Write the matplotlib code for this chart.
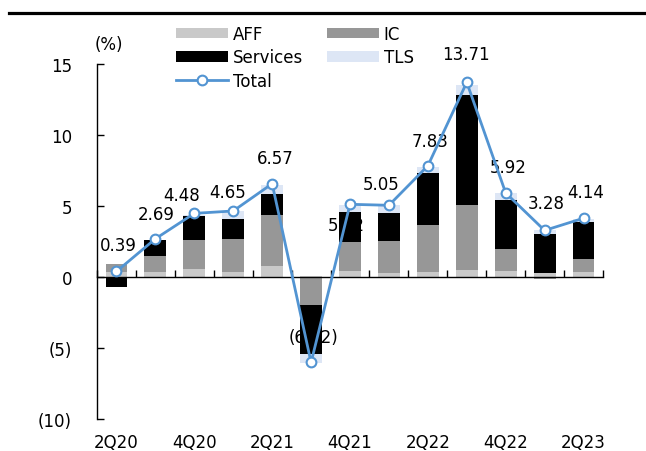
import matplotlib
matplotlib.use("Agg")
import matplotlib.pyplot as plt
import numpy as np
from matplotlib.lines import Line2D
from matplotlib.patches import Patch
from matplotlib.ticker import FixedLocator, FuncFormatter

plt.rcParams['font.family'] = ['DejaVu Sans']
FS = 12

quarters = ['2Q20', '3Q20', '4Q20', '1Q21', '2Q21', '3Q21', '4Q21',
            '1Q22', '2Q22', '3Q22', '4Q22', '1Q23', '2Q23']
aff = [0.33, 0.35, 0.58, 0.35, 0.77, 0.1, 0.4, 0.3, 0.35, 0.47, 0.4, 0.25, 0.35]
ic = [0.57, 1.13, 2.06, 2.3, 3.61, -2.0, 2.1, 2.27, 3.33, 4.58, 1.6, -0.15, 0.94]
services = [-0.7, 1.1, 1.69, 1.46, 1.48, -3.4, 2.1, 1.95, 3.64, 7.75, 3.45, 2.75, 2.58]
tls = [0.0, 0.05, 0.05, 0.54, 0.6, -0.66, 0.5, 0.52, 0.42, 0.75, 0.47, 0.28, 0.23]
total = [0.39, 2.69, 4.48, 4.65, 6.57, -6.02, 5.12, 5.05, 7.83, 13.71, 5.92, 3.28, 4.14]
tick_labels = ['2Q20', '4Q20', '2Q21', '4Q21', '2Q22', '4Q22', '2Q23']
yticks = [-10, -5, 0, 5, 10, 15]

# label offsets in pixels (dx, dy)
label_offsets = [(2, 26), (1, 25), (-13, 18), (-6, 19), (3, 26), (2, 25), (-4, -21),
                 (-8, 21), (2, 25), (-1, 28), (2, 26), (2, 27), (2, 26)]

colors = {'AFF': '#C9C9C9', 'IC': '#979797', 'Services': '#000000', 'TLS': '#DDE6F5'}
line_color = '#5294D2'

fig = plt.figure(figsize=(6.46, 4.52), dpi=100)
W, H = 646, 452
ax = fig.add_axes([97 / W, 1 - 420 / H, (603 - 97) / W, (420 - 65) / H])

x = np.arange(len(quarters))
width = 0.56
pos = np.zeros(len(x))
neg = np.zeros(len(x))
handles = {}
for name, vals in [('AFF', aff), ('IC', ic), ('Services', services), ('TLS', tls)]:
    v = np.array(vals, dtype=float)
    bottom = np.where(v >= 0, pos, neg)
    ax.bar(x, v, width, bottom=bottom, color=colors[name], zorder=1, linewidth=0)
    handles[name] = Patch(facecolor=colors[name], edgecolor='none')
    pos += np.clip(v, 0, None)
    neg += np.clip(v, None, 0)

ax.plot(x, total, color=line_color, lw=2.0, marker='o', ms=7, mfc='white',
        mec=line_color, mew=1.5, zorder=3)
handles['Total'] = Line2D([], [], color=line_color, lw=2.0, marker='o', ms=7,
                          mfc='white', mec=line_color, mew=1.5)

for xi, t, (dx, dy) in zip(x, total, label_offsets):
    s = f"({abs(t):.2f})" if t < 0 else f"{t:.2f}"
    ax.annotate(s, (xi, t), xytext=(dx, dy), textcoords='offset pixels',
                ha='center', va='center', fontsize=FS, color='black', zorder=2.5)

ax.set_xlim(-0.5, len(x) - 0.5)
ax.set_ylim(-10, 15)

for s in ['top', 'right']:
    ax.spines[s].set_visible(False)
ax.spines['bottom'].set_position(('data', 0))
ax.spines['bottom'].set_linewidth(1.0)
ax.spines['left'].set_linewidth(1.0)

ax.xaxis.set_major_locator(FixedLocator(np.arange(-0.5, len(x), 1.0)))
ax.tick_params(axis='x', direction='in', length=5, width=1, labelbottom=False)

ax.set_yticks(yticks)
ax.yaxis.set_major_formatter(FuncFormatter(lambda v, p: f"({abs(int(v))})" if v < 0 else f"{int(v)}"))
ax.tick_params(axis='y', direction='in', length=5, width=1, labelsize=FS, pad=18)

sec = ax.secondary_xaxis('bottom')
sec.set_xticks([0, 2, 4, 6, 8, 10, 12], tick_labels)
sec.spines['bottom'].set_visible(False)
sec.tick_params(length=0, labelsize=FS, pad=10)

order = ['AFF', 'Services', 'Total', 'IC', 'TLS']
fig.legend([handles[k] for k in order], order, loc='upper left',
           bbox_to_anchor=(176 / W, 1 - 26 / H), ncol=2, frameon=False,
           fontsize=FS, handlelength=3.1, handleheight=0.6, handletextpad=0.3,
           columnspacing=1.45, labelspacing=0.32, borderpad=0, borderaxespad=0)

fig.text(109 / W, 1 - 45 / H, '(%)', ha='center', va='center', fontsize=FS)
fig.add_artist(Line2D([9 / W, 1.0], [1 - 13.5 / H, 1 - 13.5 / H], color='black',
                      lw=2.3, transform=fig.transFigure))

fig.savefig('out.png', dpi=100)
